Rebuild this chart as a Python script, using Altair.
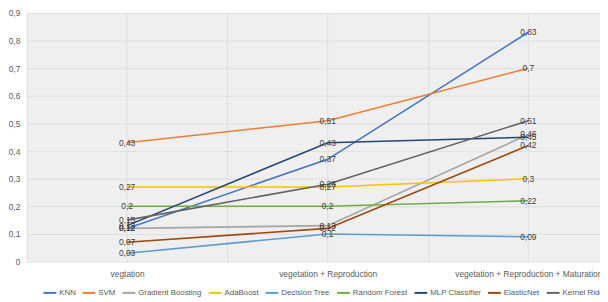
import altair as alt
import pandas as pd

categories = ["vegtation", "vegetation + Reproduction", "vegetation + Reproduction + Maturation"]
models = ["KNN", "SVM", "Gradient Boosting", "AdaBoost", "Decision Tree",
          "Random Forest", "MLP Classifier", "ElasticNet", "Kernel Ridge"]
colors = ["#4472C4", "#ED7D31", "#A5A5A5", "#FFC000", "#5B9BD5",
          "#70AD47", "#264478", "#9E480E", "#636363"]

knn = [0.12, 0.37, 0.83]
svm = [0.43, 0.51, 0.70]
gradient_boosting = [0.12, 0.13, 0.46]
adaboost = [0.27, 0.27, 0.30]
decision_tree = [0.03, 0.10, 0.09]
random_forest = [0.20, 0.20, 0.22]
mlp = [0.13, 0.43, 0.45]
elasticnet = [0.07, 0.12, 0.42]
kernel_ridge = [0.15, 0.28, 0.51]

y_ticks = [0, 0.1, 0.2, 0.3, 0.4, 0.5, 0.6, 0.7, 0.8, 0.9]

series = [knn, svm, gradient_boosting, adaboost, decision_tree,
          random_forest, mlp, elasticnet, kernel_ridge]
rows = []
for m, vals in zip(models, series):
    for c, v in zip(categories, vals):
        rows.append({"model": m, "category": c, "value": v})
df = pd.DataFrame(rows)
cat_df = pd.DataFrame({"category": categories})

FONT = "Liberation Sans"
GRID = "#dedede"

xscale = alt.Scale(type="band", domain=categories, range=[0, 610],
                   paddingInner=0, paddingOuter=0)
yscale = alt.Scale(domain=[0, 0.9], nice=False)

x_axis = alt.Axis(title=None, tickBand="extent", grid=True, gridColor=GRID,
                  domain=False, ticks=False, labelColor="#595959",
                  labelFontSize=8.5, labelFont=FONT, labelPadding=8,
                  labelAngle=0, labelOverlap=False, labelLimit=400)
y_axis = alt.Axis(title=None, values=y_ticks, domain=False, ticks=False,
                  gridColor=GRID, labelColor="#595959", labelFontSize=8.5,
                  labelFont=FONT, labelPadding=7, labelOverlap=False,
                  labelExpr="datum.value == 0 ? '0' : replace(format(datum.value, '.1f'), '.', ',')")

vgrid = alt.Chart(cat_df).mark_rule(color=GRID, strokeWidth=1).encode(
    x=alt.X("category:N", sort=categories, scale=xscale, axis=x_axis)
)

lines = alt.Chart(df).mark_line(strokeWidth=1.6).encode(
    x=alt.X("category:N", sort=categories, scale=xscale, axis=x_axis),
    y=alt.Y("value:Q", scale=yscale, axis=y_axis),
    color=alt.Color("model:N", sort=models, scale=alt.Scale(domain=models, range=colors),
                    legend=alt.Legend(title=None, orient="none", legendX=16, legendY=276,
                                      direction="horizontal", columns=9,
                                      symbolType="stroke", symbolSize=169,
                                      symbolStrokeWidth=2, labelFontSize=8,
                                      labelFont=FONT, labelColor="#595959",
                                      labelOffset=2, columnPadding=2.5, padding=0)),
    detail="model:N",
)

labels = alt.Chart(df).transform_calculate(
    lab="replace(toString(datum.value), '.', ',')"
).mark_text(align="center", baseline="middle", fontSize=8.5, font=FONT,
            color="#404040").encode(
    x=alt.X("category:N", sort=categories, scale=xscale, axis=x_axis),
    y=alt.Y("value:Q", scale=yscale, axis=y_axis),
    text="lab:N",
)

chart = alt.layer(vgrid, lines, labels).properties(
    width=581, height=252,
    autosize=alt.AutoSizeParams(type="none"),
    padding={"left": 19, "top": 3, "right": 0, "bottom": 39},
    background="white",
).configure_view(stroke=None, fill="#efefef")

chart.save("out.html", embed_options={"renderer": "svg", "actions": False})
